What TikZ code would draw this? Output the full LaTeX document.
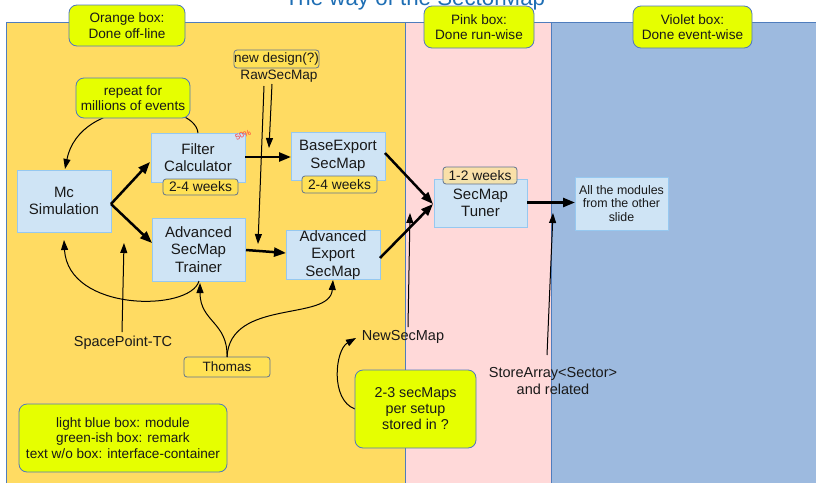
\documentclass[tikz,border=0pt]{standalone}
\usepackage{fontspec}
\setmainfont{Liberation Sans}
\usetikzlibrary{arrows.meta}
\definecolor{bgorange}{RGB}{255,219,98}
\definecolor{bgpink}{RGB}{255,217,217}
\definecolor{bgblue}{RGB}{157,186,223}
\definecolor{regionline}{RGB}{79,125,189}
\definecolor{calloutfill}{RGB}{230,255,0}
\definecolor{calloutline}{RGB}{80,120,190}
\definecolor{modfill}{RGB}{207,228,245}
\definecolor{modline}{RGB}{150,200,240}
\definecolor{tagfill}{RGB}{255,225,85}
\definecolor{tagline}{RGB}{95,115,145}
\definecolor{tagfilltwo}{RGB}{250,226,160}
\definecolor{titleblue}{RGB}{30,110,180}
\definecolor{txt}{RGB}{25,25,25}
\begin{document}
\begin{tikzpicture}[x=1pt,y=-1pt,
  module/.style={draw=modline, fill=modfill, line width=1pt, inner sep=0pt, align=center, text=txt, font=\fontsize{15}{17.5}\selectfont},
  callout/.style={draw=calloutline, fill=calloutfill, rounded corners=8pt, line width=0.8pt, inner sep=0pt, align=center, text=txt, font=\fontsize{13.6}{15.3}\selectfont},
  tagbox/.style={draw=tagline, fill=tagfill, rounded corners=3pt, line width=0.8pt, inner sep=0pt, align=center, text=txt, font=\fontsize{13.8}{15}\selectfont},
  plainlabel/.style={inner sep=0pt, align=center, text=txt, font=\fontsize{14.5}{16.5}\selectfont},
  thickarrow/.style={line width=2.5pt, -{Triangle[length=12pt,width=9pt]}},
  thinarrow/.style={line width=1pt, -{Triangle[length=10pt,width=7pt]}}
]
\useasboundingbox (0,0) rectangle (816,482);
\fill[white] (0,0) rectangle (816,482);
% regions
\path[fill=bgorange, draw=regionline, line width=1pt] (6,22) rectangle (405,495);
\path[fill=bgpink, draw=regionline, line width=1pt] (405,22) rectangle (551,495);
\path[fill=bgblue, draw=regionline, line width=1pt] (551,22) rectangle (830,495);
% title
\node[anchor=base, inner sep=0pt, text=titleblue, font=\fontsize{22.3}{24}\selectfont] (title) at (415,5) {The way of the SectorMap};
% callouts for regions
\node[callout, minimum width=116pt, minimum height=41pt] (coorange) at (127,25.5) {Orange box:\\Done off-line};
\node[callout, minimum width=110pt, minimum height=42pt] (copink) at (479,27) {Pink box:\\Done run-wise};
\node[callout, minimum width=119pt, minimum height=42pt] (coviolet) at (692.5,27) {Violet box:\\Done event-wise};
% modules
\node[module, minimum width=94pt, minimum height=62pt] (mc) at (64,201) {Mc\\Simulation};
\node[module, minimum width=94pt, minimum height=49pt] (fc) at (198,157.5) {Filter\\Calculator};
\node[module, minimum width=94pt, minimum height=48pt] (be) at (338,156) {BaseExport\\SecMap};
\node[module, minimum width=93pt, minimum height=63pt] (at) at (198.5,249.5) {Advanced\\SecMap\\Trainer};
\node[module, minimum width=94pt, minimum height=48pt] (ae) at (333,255) {Advanced\\Export\\SecMap};
\node[module, minimum width=93pt, minimum height=48pt] (tu) at (480.5,203) {SecMap\\Tuner};
\node[module, minimum width=93pt, minimum height=53pt, font=\fontsize{12.4}{13.5}\selectfont] (all) at (621.5,203.5) {All the modules\\from the other\\slide};
% tags
\node[tagbox, minimum width=75pt, minimum height=16pt] (wfc) at (200.5,187) {2-4 weeks};
\node[tagbox, minimum width=75pt, minimum height=17pt] (wbe) at (339.5,184.5) {2-4 weeks};
\node[tagbox, fill=tagfilltwo, fill opacity=0.85, text opacity=1, minimum width=74pt, minimum height=17pt] (wtu) at (480,175.5) {1-2 weeks};
\node[tagbox, minimum width=85pt, minimum height=18pt, font=\fontsize{13.5}{15}\selectfont] (nd) at (276.5,59) {new design(?)};
\node[tagbox, minimum width=86pt, minimum height=20pt, font=\fontsize{13.5}{15}\selectfont] (th) at (227,367) {Thomas};
% plain labels
\node[plainlabel, font=\fontsize{13.6}{15}\selectfont] (raw) at (279,76) {RawSecMap};
\node[plainlabel] (sp) at (123,343) {SpacePoint-TC};
\node[plainlabel] (ns) at (403,337) {NewSecMap};
\node[plainlabel] (sa) at (553,381) {StoreArray<Sector>\\and related};
\node[inner sep=0pt, text=red!80!white, rotate=22, font=\fontsize{8}{8}\selectfont] (pct) at (243,135) {50\%};
% connection points
\coordinate (mcout) at (111,204);
\coordinate (fcin) at (150,162);
\coordinate (atin) at (152,243);
\coordinate (fcout) at (245,157);
\coordinate (bein) at (291,157);
\coordinate (atout) at (246,250);
\coordinate (aein) at (286,253);
\coordinate (beout) at (385,153);
\coordinate (aeout) at (380,258);
\coordinate (tuin) at (433,204);
\coordinate (tuout) at (527,202.5);
\coordinate (allin) at (575,202.5);
\coordinate (fctop) at (198,133);
\coordinate (mctop) at (65,169);
\coordinate (atbot) at (199,281);
\coordinate (mcbot) at (64,240);
\coordinate (sptop) at (122,332);
\coordinate (spend) at (124,243);
\coordinate (thtop) at (227,357);
\coordinate (atbotin) at (200,283);
\coordinate (aebot) at (333,280);
\coordinate (rawl) at (264,86);
\coordinate (rawltip) at (258,244);
\coordinate (rawr) at (272,84);
\coordinate (rawrtip) at (269,148);
\coordinate (nstop) at (408,327);
\coordinate (nstip) at (410,213);
\coordinate (satop) at (547,355);
\coordinate (satip) at (553,213);
\coordinate (smleft) at (355,409);
\coordinate (nsleft) at (356,338);
% thick arrows
\draw[thickarrow] (mcout) -- (fcin);
\draw[thickarrow] (mcout) -- (atin);
\draw[thickarrow] (fcout) -- (bein);
\draw[thickarrow] (atout) -- (aein);
\draw[thickarrow] (beout) -- (tuin);
\draw[thickarrow] (aeout) -- (tuin);
\draw[thickarrow] (tuout) -- (allin);
% thin arrows
\draw[thinarrow] (fctop) .. controls (195,100) and (80,95) .. (mctop);
\draw[thinarrow] (atbot) .. controls (190,312) and (68,312) .. (mcbot);
\draw[thinarrow] (sptop) -- (spend);
\draw[thinarrow] (thtop) .. controls (228,322) and (200,322) .. (atbotin);
\draw[thinarrow] (thtop) .. controls (230,298) and (330,322) .. (aebot);
\draw[thinarrow] (rawl) -- (rawltip);
\draw[thinarrow] (rawr) -- (rawrtip);
\draw[thinarrow] (nstop) -- (nstip);
\draw[thinarrow] (satop) -- (satip);
\draw[thinarrow] (smleft) .. controls (330,400) and (335,350) .. (nsleft);
% remark callouts drawn on top
\node[callout, minimum width=114pt, minimum height=40pt] (rep) at (133,98) {repeat for\\millions of events};
\node[callout, minimum width=208pt, minimum height=68pt] (leg) at (123,438) {light blue box: module\\green-ish box: remark\\text w/o box: interface-container};
\node[callout, minimum width=121pt, minimum height=78pt, font=\fontsize{14.3}{16}\selectfont] (sm) at (415.5,409) {2-3 secMaps\\per setup\\stored in ?};
\end{tikzpicture}
\end{document}
